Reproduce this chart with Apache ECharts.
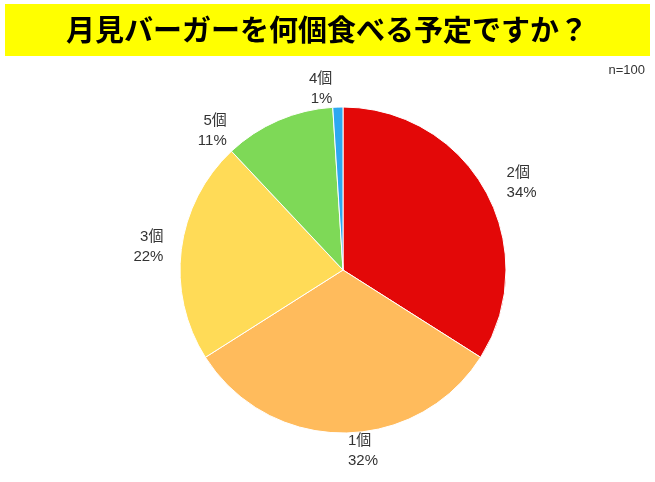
<!DOCTYPE html>
<html lang="ja">
<head>
<meta charset="UTF-8">
<script src="https://cdn.jsdelivr.net/npm/echarts@6/dist/echarts.min.js"></script>
<style>body{margin:0;background:#fff}#main{width:655px;height:482px}</style>
</head>
<body>
<div id="main"></div>
<script>
var categories = ['2個', '1個', '3個', '5個', '4個'];
var values = [34, 32, 22, 11, 1];
var colors = ['#e30808', '#ffbb5c', '#ffdb57', '#7ed957', '#2da8f0'];

var chart = echarts.init(document.getElementById('main'));
chart.setOption({
    animation: false,
    textStyle: { fontFamily: 'Liberation Sans, Noto Sans CJK JP' },
    graphic: [
        { type: 'rect', shape: { x: 5, y: 4, width: 645, height: 52 }, style: { fill: '#ffff00' } },
        { type: 'text', x: 327, y: 30, style: { text: '月見バーガーを何個食べる予定ですか？', fill: '#000', font: 'bold 29px "Noto Sans CJK JP"', align: 'center', verticalAlign: 'middle' } },
        { type: 'text', x: 645, y: 70, style: { text: 'n=100', fill: '#333', font: '13px "Liberation Sans"', align: 'right', verticalAlign: 'middle' } }
    ],
    series: [{
        type: 'pie',
        center: [343, 270],
        radius: 163,
        startAngle: 90,
        clockwise: true,
        data: categories.map(function (c, i) {
            return { name: c, value: values[i], itemStyle: { color: colors[i] } };
        }),
        itemStyle: { borderColor: '#fff', borderWidth: 1 },
        label: {
            position: 'outside',
            formatter: function (p) { return p.name + '\n' + p.value + '%'; },
            color: '#333',
            fontSize: 15,
            lineHeight: 20,
            align: 'center'
        },
        labelLine: { show: false, length: 18, length2: 0 }
    }]
});
</script>
</body>
</html>
